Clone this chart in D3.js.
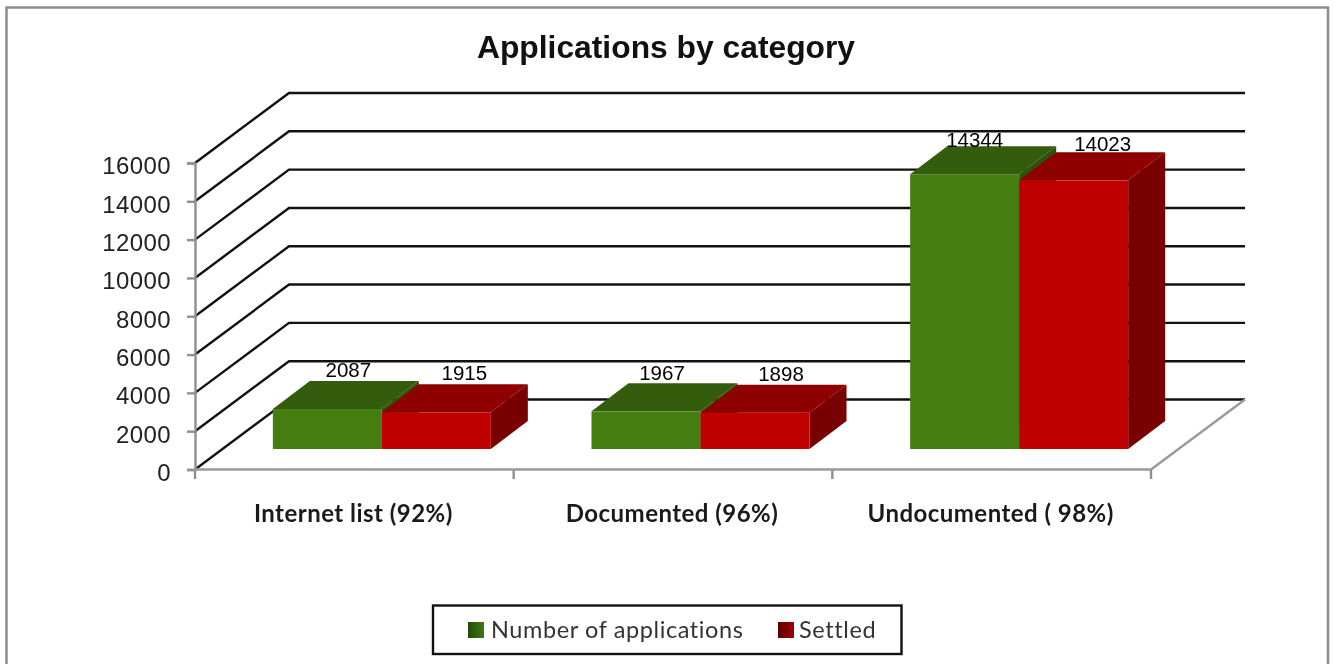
<!DOCTYPE html>
<html><head><meta charset="utf-8">
<script src="https://cdn.jsdelivr.net/npm/d3@7/dist/d3.min.js"></script>
<style>html,body{margin:0;padding:0;background:#fff}svg{display:block;filter:blur(0.45px)}</style>
</head><body><svg id="c" width="1335" height="664"></svg>
<script>
const categories = ["Internet list (92%)", "Documented (96%)", "Undocumented ( 98%)"];
const seriesNames = ["Number of applications", "Settled"];
const applications = [2087, 1967, 14344];
const settled = [1915, 1898, 14023];
const yTicks = [0, 2000, 4000, 6000, 8000, 10000, 12000, 14000, 16000];

const svg = d3.select("#c");
const FONT_ARIAL = "'Liberation Sans', Arial, sans-serif";
const FONT_CAL = "Lato, 'Noto Sans', sans-serif";

// Frame
svg.append("path").attr("d", "M6.5,670V7.5H1328V670").attr("fill", "#fff").attr("stroke", "#8c8c8c").attr("stroke-width", 2.5);

svg.append("text").attr("x", 666).attr("y", 58).attr("text-anchor", "middle")
  .attr("font-family", FONT_ARIAL).attr("font-weight", 700).attr("font-size", 31.8)
  .attr("fill", "#111")
  .text("Applications by category");

// scales
const y = d3.scaleLinear().domain([0, 16000]).range([469.5, 163]);
const x0 = d3.scaleBand().domain(categories).range([195, 1151]);
const x1 = d3.scaleBand().domain(seriesNames).range([0, 218]);
const wallDx = 94, wallDy = -70;      // depth of the plot box
const barDepthDx = 37, barDepthDy = -28; // depth of a bar
const frontDy = -20.5, frontDx = 27.5;  // offset of the bars' front plane

// Back wall + side wall gridlines
const grid = svg.append("g").attr("fill", "none").attr("stroke", "#111").attr("stroke-width", 2.4);
yTicks.forEach(t => {
  const yy = y(t);
  grid.append("path").attr("d", `M195,${yy}L${195 + wallDx},${yy + wallDy}H${1151 + wallDx}`);
});
// Floor
svg.append("path").attr("d", `M1151,469.5L${1151 + wallDx},${469.5 + wallDy}`).attr("fill", "none").attr("stroke", "#9a9a9a").attr("stroke-width", 2.4);

// Axes
const yAxis = d3.axisLeft(y).tickValues(yTicks).tickSize(8).tickPadding(16).tickFormat(d3.format("d"));
const gy = svg.append("g").attr("transform", "translate(195,0)").call(yAxis);
gy.selectAll("text").attr("font-family", FONT_ARIAL).attr("font-size", 24).attr("fill", "#222")
  .attr("letter-spacing", 0.4).attr("dy", "0.45em");
gy.selectAll("path,line").attr("stroke", "#8f8f8f").attr("stroke-width", 2.4);

const bandTicks = categories.map(c => x0(c)).concat([1151]);
svg.append("g").selectAll("line").data(bandTicks).join("line")
  .attr("x1", d => d).attr("x2", d => d).attr("y1", 469.5).attr("y2", 479)
  .attr("stroke", "#8f8f8f").attr("stroke-width", 2.4);
svg.append("line").attr("x1", 195).attr("x2", 1151).attr("y1", 469.5).attr("y2", 469.5).attr("stroke", "#9a9a9a").attr("stroke-width", 2.4);

svg.append("g").selectAll("text").data(categories).join("text")
  .attr("x", d => x0(d) + x0.bandwidth() / 2 - 1).attr("y", 522).attr("text-anchor", "middle")
  .attr("font-family", FONT_CAL).attr("font-weight", 700).attr("font-size", 24).attr("letter-spacing", 0.47).attr("fill", "#1a1a1a")
  .text(d => d);

// Bars
const seriesData = [
  {name: seriesNames[0], values: applications, front: "#457d11", top: "#335c0d", side: "#2d520b",
   labelDx: [-17, -22, -28], labelDy: [0, 1, 5]},
  {name: seriesNames[1], values: settled, front: "#c00000", top: "#8f0000", side: "#780000",
   labelDx: [-10, -12, -9], labelDy: [0, 0, 3]}
];
const baseY = v => y(v) + frontDy;
seriesData.forEach(s => {
  const g = svg.append("g");
  const items = categories.map((c, i) => ({c, i, v: s.values[i], x: x0(c) + x0.bandwidth() / 2 + frontDx - 109 + x1(s.name)}));
  const w = x1.bandwidth();
  g.selectAll("path.side").data(items).join("path").attr("class", "side").attr("fill", s.side)
    .attr("d", d => `M${d.x + w},${baseY(d.v)}l${barDepthDx},${barDepthDy}V${baseY(0) + barDepthDy}l${-barDepthDx},${-barDepthDy}Z`);
  g.selectAll("path.top").data(items).join("path").attr("class", "top").attr("fill", s.top)
    .attr("d", d => `M${d.x},${baseY(d.v)}l${barDepthDx},${barDepthDy}h${w}l${-barDepthDx},${-barDepthDy}Z`);
  g.selectAll("rect").data(items).join("rect").attr("fill", s.front)
    .attr("x", d => d.x).attr("y", d => baseY(d.v)).attr("width", w).attr("height", d => baseY(0) - baseY(d.v));
  s.items = items; s.w = w;
});
// Data labels
seriesData.forEach(s => {
  svg.append("g").selectAll("text").data(s.items).join("text")
    .attr("x", d => d.x + s.w / 2 + 38 + s.labelDx[d.i]).attr("y", d => baseY(d.v) + barDepthDy - 4 + s.labelDy[d.i])
    .attr("text-anchor", "middle").attr("font-family", FONT_ARIAL).attr("font-size", 20.5).attr("fill", "#000")
    .text(d => d.v);
});

// Legend
const defs = svg.append("defs");
[["g0", "#234a08", "#3f7a10"], ["g1", "#5e0000", "#a00000"]].forEach(([id, a, b]) => {
  const lg = defs.append("linearGradient").attr("id", id);
  lg.append("stop").attr("offset", 0).attr("stop-color", a);
  lg.append("stop").attr("offset", 1).attr("stop-color", b);
});
svg.append("rect").attr("x", 433).attr("y", 605.5).attr("width", 468.5).attr("height", 48.5).attr("fill", "#fff").attr("stroke", "#111").attr("stroke-width", 2.4);
const legendX = [468, 778], legendTextX = [491, 799];
seriesNames.forEach((n, i) => {
  svg.append("rect").attr("x", legendX[i]).attr("y", 622).attr("width", 16).attr("height", 16).attr("fill", `url(#g${i})`);
  svg.append("text").attr("x", legendTextX[i]).attr("y", 638).attr("font-family", FONT_CAL).attr("font-size", 23.5).attr("letter-spacing", 0.6).attr("fill", "#333").text(n);
});
</script></body></html>
